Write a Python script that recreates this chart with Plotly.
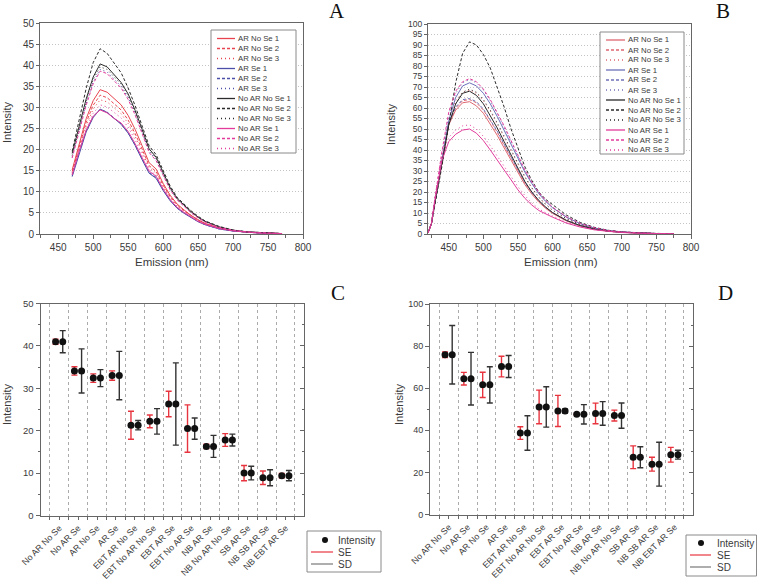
import plotly.graph_objects as go

W, H = 757, 582

# ---------------- Panel A data (emission spectra) ----------------
wl_a = [470, 480, 490, 500, 510, 520, 530, 540, 550, 560, 570, 580, 590, 600,
        610, 620, 630, 640, 650, 660, 680, 700, 720, 740, 770]
a_ar_nose_1 = [15.2, 21.6, 27.3, 31.6, 34.2, 33.6, 32.0, 30.6, 28.1, 24.8, 20.9, 16.9, 15.4, 12.0, 9.2, 7.1, 5.7, 4.4, 3.4, 2.5, 1.4, 0.8, 0.4, 0.25, 0.1]
a_ar_nose_2 = [14.8, 20.9, 26.4, 30.5, 32.9, 32.3, 30.8, 29.4, 27.0, 23.8, 20.1, 16.2, 14.8, 11.6, 8.9, 6.9, 5.5, 4.3, 3.3, 2.4, 1.4, 0.8, 0.4, 0.25, 0.1]
a_ar_nose_3 = [14.5, 20.4, 25.6, 29.6, 31.8, 31.3, 29.9, 28.5, 26.2, 23.1, 19.5, 15.8, 14.4, 11.3, 8.7, 6.7, 5.4, 4.2, 3.2, 2.4, 1.4, 0.8, 0.4, 0.25, 0.1]
a_ar_se_1 = [13.6, 19.2, 24.2, 27.6, 29.6, 28.8, 27.3, 26.0, 23.9, 21.0, 17.6, 14.4, 13.2, 10.3, 7.9, 6.1, 4.9, 3.8, 2.9, 2.2, 1.2, 0.7, 0.4, 0.2, 0.1]
a_ar_se_2 = [13.9, 19.5, 24.4, 27.8, 29.5, 28.9, 27.4, 26.1, 24.0, 21.1, 17.8, 14.6, 13.4, 10.5, 8.0, 6.2, 5.0, 3.9, 3.0, 2.2, 1.2, 0.7, 0.4, 0.2, 0.1]
a_ar_se_3 = [18.2, 24.5, 30.9, 36.0, 39.0, 38.4, 36.7, 35.0, 32.3, 28.6, 24.1, 19.6, 17.6, 14.0, 10.7, 8.2, 6.6, 5.1, 3.9, 2.9, 1.6, 0.9, 0.5, 0.3, 0.1]
a_noar_nose_1 = [19.1, 25.5, 32.0, 37.2, 40.3, 39.6, 37.8, 35.9, 33.2, 29.3, 24.8, 20.2, 18.2, 14.4, 11.0, 8.4, 6.8, 5.3, 4.0, 3.0, 1.7, 0.9, 0.5, 0.3, 0.1]
a_noar_nose_2 = [19.6, 27.0, 34.5, 40.6, 43.9, 42.8, 40.6, 38.2, 34.6, 30.4, 25.6, 20.9, 18.8, 14.9, 11.4, 8.7, 7.0, 5.5, 4.2, 3.1, 1.8, 0.95, 0.5, 0.3, 0.1]
a_noar_nose_3 = [18.6, 25.0, 31.5, 36.6, 39.6, 39.0, 37.3, 35.5, 32.8, 29.0, 24.5, 19.9, 17.9, 14.2, 10.8, 8.3, 6.7, 5.2, 3.9, 2.9, 1.6, 0.9, 0.5, 0.3, 0.1]
a_noar_se_1 = [14.0, 19.7, 24.6, 27.9, 29.4, 28.7, 27.4, 26.3, 24.3, 21.4, 18.1, 14.9, 13.7, 10.7, 8.2, 6.3, 5.1, 4.0, 3.0, 2.3, 1.3, 0.75, 0.4, 0.2, 0.1]
a_noar_se_2 = [18.0, 24.2, 30.5, 35.6, 38.6, 38.0, 36.3, 34.6, 31.9, 28.2, 23.8, 19.3, 17.4, 13.8, 10.5, 8.1, 6.5, 5.0, 3.8, 2.8, 1.6, 0.9, 0.5, 0.3, 0.1]
a_noar_se_3 = [14.2, 19.8, 24.8, 28.6, 30.6, 30.1, 28.8, 27.5, 25.3, 22.3, 18.8, 15.3, 13.9, 10.9, 8.4, 6.5, 5.2, 4.1, 3.1, 2.3, 1.3, 0.75, 0.4, 0.2, 0.1]

# ---------------- Panel B data (emission spectra) ----------------
wl_b = [420, 425, 430, 440, 450, 460, 470, 480, 490, 500, 510, 520, 530, 540,
        550, 560, 570, 580, 590, 600, 620, 640, 660, 680, 700, 725, 750, 775]
b_ar_nose_1 = [0.5, 5, 15, 34, 52, 59, 62.5, 63, 61, 57.5, 52.5, 47, 41, 35, 29, 23.5, 19, 15.2, 12.2, 9.8, 6.2, 3.8, 2.3, 1.3, 0.8, 0.4, 0.2, 0.1]
b_ar_nose_2 = [0.5, 5, 15, 35, 52.5, 60, 63.5, 64, 62.5, 59, 54, 48.5, 42.3, 36.2, 30, 24.3, 19.6, 15.7, 12.6, 10.1, 6.4, 3.9, 2.3, 1.3, 0.8, 0.4, 0.2, 0.1]
b_ar_nose_3 = [0.5, 5, 16, 37, 55, 63.5, 67.5, 68.5, 67, 63.5, 58.5, 52.5, 46, 39.5, 33, 27, 21.8, 17.4, 14, 11.2, 7.2, 4.4, 2.6, 1.5, 0.9, 0.45, 0.2, 0.1]
b_ar_se_1 = [0.5, 5, 15, 35, 54, 65, 70.5, 72, 70.5, 67, 62, 56, 49.5, 43, 36, 29.5, 24, 19.2, 15.5, 12.5, 8, 4.9, 2.9, 1.7, 1.0, 0.5, 0.2, 0.1]
b_ar_se_2 = [0.5, 5, 15, 35, 53, 60.5, 64, 64.5, 63, 59.5, 54.5, 49, 42.8, 36.6, 30.4, 24.6, 19.8, 15.9, 12.8, 10.2, 6.5, 4.0, 2.4, 1.4, 0.8, 0.4, 0.2, 0.1]
b_ar_se_3 = [0.5, 5, 17, 38, 57, 67, 72, 73.5, 72, 68.5, 63.5, 57.5, 51, 44, 37, 30, 24.5, 19.5, 15.8, 12.6, 8.1, 5.0, 3.0, 1.7, 1.0, 0.5, 0.2, 0.1]
b_noar_nose_1 = [0.5, 5, 15, 34, 52, 62, 67, 68, 66, 62, 56.5, 50.5, 44, 37.5, 31, 25, 20, 16, 12.8, 10.2, 6.5, 4.0, 2.4, 1.4, 0.8, 0.4, 0.2, 0.1]
b_noar_nose_2 = [0.5, 5, 14, 32, 52, 72, 86, 91.5, 90, 85.5, 79, 70, 60.5, 50, 40.5, 32, 25.5, 20, 16.5, 14, 9, 5.5, 3.2, 1.8, 1.0, 0.5, 0.2, 0.1]
b_noar_nose_3 = [0.5, 5, 15, 34, 52, 62, 67.5, 69, 67.5, 64, 59, 53, 46.5, 40, 33.5, 27.3, 22, 17.6, 14.2, 11.4, 7.3, 4.5, 2.7, 1.6, 0.9, 0.45, 0.2, 0.1]
b_noar_se_1 = [0.5, 5, 16, 35, 44, 47.5, 49.5, 50, 48, 44.5, 40, 35.5, 30.5, 25.8, 21, 17, 13.8, 11.2, 9.5, 8, 5.2, 3.3, 2.0, 1.2, 0.7, 0.35, 0.15, 0.1]
b_noar_se_2 = [0.5, 5, 17, 39, 58, 68, 72.5, 74, 72.5, 69, 64, 58, 51.5, 44.5, 37.5, 30.5, 24.8, 19.8, 16, 12.8, 8.2, 5.0, 3.0, 1.7, 1.0, 0.5, 0.2, 0.1]
b_noar_se_3 = [0.5, 5, 17, 38, 46, 49.5, 51.5, 52, 50, 46.5, 42, 37.3, 32.3, 27.4, 22.5, 18.3, 14.8, 12, 10.1, 8.5, 5.5, 3.5, 2.1, 1.2, 0.7, 0.35, 0.15, 0.1]

series_names = ["AR No Se 1", "AR No Se 2", "AR No Se 3",
                "AR Se 1", "AR Se 2", "AR Se 3",
                "No AR No Se 1", "No AR No Se 2", "No AR No Se 3",
                "No AR Se 1", "No AR Se 2", "No AR Se 3"]
series_a = [a_ar_nose_1, a_ar_nose_2, a_ar_nose_3, a_ar_se_1, a_ar_se_2, a_ar_se_3,
            a_noar_nose_1, a_noar_nose_2, a_noar_nose_3, a_noar_se_1, a_noar_se_2, a_noar_se_3]
series_b = [b_ar_nose_1, b_ar_nose_2, b_ar_nose_3, b_ar_se_1, b_ar_se_2, b_ar_se_3,
            b_noar_nose_1, b_noar_nose_2, b_noar_nose_3, b_noar_se_1, b_noar_se_2, b_noar_se_3]

# ---------------- Panels C / D data (mean intensity, SE, SD) ----------------
categories = ["No AR No Se", "No AR Se", "AR No Se", "AR Se", "EBT AR No Se",
              "EBT No AR No Se", "EBT AR Se", "EBT No AR Se", "NB AR Se",
              "NB No AR No Se", "SB AR Se", "NB SB AR Se", "NB EBT AR Se"]
c_mean = [41.0, 34.1, 32.4, 33.0, 21.3, 22.2, 26.3, 20.5, 16.3, 17.8, 10.0, 8.9, 9.4]
c_se = [0.6, 1.0, 1.0, 1.1, 3.3, 1.5, 3.0, 5.6, 0.5, 1.5, 1.8, 1.6, 0.5]
c_sd = [2.6, 5.2, 2.0, 5.7, 1.1, 3.0, 9.7, 2.5, 2.6, 1.4, 1.6, 1.9, 1.2]
d_mean = [75.9, 64.5, 61.6, 70.3, 38.7, 51.1, 49.2, 47.6, 48.0, 47.0, 27.2, 23.9, 28.4]
d_se = [1.3, 3.0, 6.0, 4.9, 3.0, 8.0, 7.4, 0.5, 4.9, 2.6, 5.4, 3.3, 3.5]
d_sd = [13.9, 12.5, 8.6, 5.2, 8.2, 9.6, 1.0, 4.6, 5.6, 6.0, 5.0, 10.4, 2.1]

# ---------------- styles ----------------
FONT = "Liberation Sans, Arial, sans-serif"
SERIF = "Liberation Serif, Times New Roman, serif"
TXT = "#3a3a3a"
AXC = "#666666"
cols_a = ["#e8444f", "#4b4fa8", "#2b2b2b", "#e23b9c"]
cols_b = ["#de6670", "#6d70b8", "#2b2b2b", "#e23b9c"]
dashes = ["solid", "3px,2px", "1px,3px"]
RED = "#e8343f"
SDC = "#333333"


def px(x):
    return x / W


def py(y):
    return 1 - y / H


fig = go.Figure()

for i, (name, ys) in enumerate(zip(series_names, series_a)):
    fig.add_trace(go.Scatter(x=wl_a, y=ys, mode="lines", name=name, showlegend=False,
                             line=dict(color=cols_a[i // 3], width=1.0, dash=dashes[i % 3]),
                             xaxis="x", yaxis="y"))
for i, (name, ys) in enumerate(zip(series_names, series_b)):
    fig.add_trace(go.Scatter(x=wl_b, y=ys, mode="lines", name=name, showlegend=False,
                             line=dict(color=cols_b[i // 3], width=1.0, dash=dashes[i % 3]),
                             xaxis="x2", yaxis="y2"))

for (mean, se, sd, xa, ya) in [(c_mean, c_se, c_sd, "x3", "y3"), (d_mean, d_se, d_sd, "x4", "y4")]:
    xs_se = [k - 0.2 for k in range(len(categories))]
    xs_sd = [k + 0.18 for k in range(len(categories))]
    fig.add_trace(go.Scatter(x=xs_se, y=mean, mode="markers", name="SE", showlegend=False,
                             marker=dict(color="#111111", size=7),
                             error_y=dict(type="data", array=se, color=RED, thickness=1.4, width=3),
                             xaxis=xa, yaxis=ya))
    fig.add_trace(go.Scatter(x=xs_sd, y=mean, mode="markers", name="SD", showlegend=False,
                             marker=dict(color="#111111", size=7),
                             error_y=dict(type="data", array=sd, color=SDC, thickness=1.4, width=3),
                             xaxis=xa, yaxis=ya))

# empty traces so the right-hand tick axes of C and D are drawn
fig.add_trace(go.Scatter(x=[], y=[], xaxis="x3", yaxis="y5", showlegend=False))
fig.add_trace(go.Scatter(x=[], y=[], xaxis="x4", yaxis="y6", showlegend=False))


def spec_x(domain, rng, anchor, fs):
    return dict(domain=domain, range=rng, anchor=anchor, showgrid=False, zeroline=False,
                showline=True, mirror=True, linecolor=AXC, linewidth=1,
                tickmode="linear", tick0=450, dtick=50, ticks="outside", ticklen=4,
                tickcolor=AXC, tickfont=dict(family=FONT, size=fs, color=TXT),
                minor=dict(tickmode="linear", tick0=425, dtick=25, ticks="outside",
                           ticklen=3, tickcolor=AXC))


def spec_y(domain, rng, anchor, fs):
    return dict(domain=domain, range=rng, anchor=anchor, showgrid=True, gridcolor="#c4c4c4",
                griddash="1px,2px", gridwidth=1, zeroline=False, showline=True, mirror=True,
                linecolor=AXC, linewidth=1, tickmode="linear", tick0=0, dtick=5,
                ticks="outside", ticklen=3, tickcolor=AXC,
                tickfont=dict(family=FONT, size=fs, color=TXT))


def cat_x(domain, anchor):
    return dict(domain=domain, range=[-1.0, 12.98], anchor=anchor, showgrid=False,
                zeroline=False, showline=True, mirror=True, linecolor=AXC, linewidth=1,
                tickmode="array", tickvals=list(range(len(categories))), ticktext=categories,
                tickangle=-45, ticks="outside", ticklen=3, tickcolor=AXC,
                tickfont=dict(family=FONT, size=8.8, color=TXT),
                minor=dict(tickmode="array", tickvals=[k + 0.5 for k in range(-1, len(categories))],
                           showgrid=True, gridcolor="#ababab", griddash="3px,3px", gridwidth=1,
                           ticks="outside", ticklen=3, tickcolor=AXC))


def cat_y(domain, rng, anchor, dt, fs):
    return dict(domain=domain, range=rng, anchor=anchor, showgrid=False, zeroline=False,
                showline=True, mirror=True, linecolor=AXC, linewidth=1,
                tickmode="linear", tick0=0, dtick=dt, ticks="outside", ticklen=4,
                tickcolor=AXC, tickfont=dict(family=FONT, size=fs, color=TXT),
                minor=dict(tickmode="linear", tick0=0, dtick=dt / 2, ticks="outside",
                           ticklen=2, tickcolor=AXC))


def right_y(domain, rng, anchor, over, dt):
    return dict(domain=domain, range=rng, anchor=anchor, overlaying=over, side="right",
                showgrid=False, zeroline=False, showline=False, showticklabels=False,
                tickmode="linear", tick0=0, dtick=dt, ticks="inside", ticklen=4, tickcolor=AXC,
                minor=dict(tickmode="linear", tick0=0, dtick=dt / 2, ticks="inside",
                           ticklen=2, tickcolor=AXC))


dom_ax = [px(40), px(303)]
dom_ay = [py(234), py(23)]
dom_bx = [px(428), px(691)]
dom_by = [py(234), py(24)]
dom_cx = [px(40.5), px(304)]
dom_cy = [py(515.5), py(303.5)]
dom_dx = [px(430), px(693)]
dom_dy = [py(514.5), py(304)]

fig.update_layout(
    width=W, height=H, template="none",
    margin=dict(l=0, r=0, t=0, b=0),
    paper_bgcolor="white", plot_bgcolor="white",
    showlegend=False,
    xaxis=spec_x(dom_ax, [424, 800], "y", 10),
    yaxis=spec_y(dom_ay, [0, 50], "x", 10),
    xaxis2=spec_x(dom_bx, [420, 800], "y2", 10),
    yaxis2=spec_y(dom_by, [0, 100], "x2", 8.5),
    xaxis3=cat_x(dom_cx, "y3"),
    yaxis3=cat_y(dom_cy, [0, 50], "x3", 10, 9.5),
    xaxis4=cat_x(dom_dx, "y4"),
    yaxis4=cat_y(dom_dy, [0, 100], "x4", 20, 9),
    yaxis5=right_y(dom_cy, [0, 50], "x3", "y3", 10),
    yaxis6=right_y(dom_dy, [0, 100], "x4", "y4", 20),
)

shapes = []
annots = []


def text(x, y, s, size, angle=0, anchor="center", family=FONT, color=TXT):
    annots.append(dict(x=px(x), y=py(y), xref="paper", yref="paper", text=s, showarrow=False,
                       font=dict(family=family, size=size, color=color), textangle=angle,
                       xanchor=anchor, yanchor="middle"))


# axis titles
text(171.5, 262, "Emission (nm)", 11.5)
text(560.5, 262, "Emission (nm)", 11.5)
text(7, 123, "Intensity", 11, angle=-90)
text(391, 125, "Intensity", 11, angle=-90)
text(7, 405, "Intensity", 11, angle=-90)
text(399, 405, "Intensity", 11, angle=-90)

# panel letters
text(337, 11, "A", 21, family=SERIF, color="#111111")
text(723, 11, "B", 21, family=SERIF, color="#111111")
text(338, 293, "C", 21, family=SERIF, color="#111111")
text(725, 293, "D", 21, family=SERIF, color="#111111")


# spectra legends (drawn in place)
def spec_legend(x0, y0, x1, y1, lx0, lx1, tx, ry0, cols):
    shapes.append(dict(type="rect", xref="paper", yref="paper", x0=px(x0), x1=px(x1),
                       y0=py(y0), y1=py(y1), line=dict(color="#8a8a8a", width=1),
                       fillcolor="white", layer="above"))
    for i, name in enumerate(series_names):
        yy = ry0 + i * 10.0
        shapes.append(dict(type="line", xref="paper", yref="paper", x0=px(lx0), x1=px(lx1),
                           y0=py(yy), y1=py(yy), layer="above",
                           line=dict(color=cols[i // 3], width=1.3, dash=dashes[i % 3])))
        text(tx, yy, name, 7.8, anchor="left")


spec_legend(211, 30, 296, 153, 217, 235, 235.5, 38.5, cols_a)
spec_legend(600, 32, 684, 154, 606, 625, 625.5, 40, cols_b)


def stat_legend(x0, y0, x1, y1, dotx, lx0, lx1, tx, ry0):
    shapes.append(dict(type="rect", xref="paper", yref="paper", x0=px(x0), x1=px(x1),
                       y0=py(y0), y1=py(y1), line=dict(color="#8a8a8a", width=1),
                       fillcolor="white", layer="above"))
    shapes.append(dict(type="circle", xref="paper", yref="paper", xsizemode="pixel",
                       ysizemode="pixel", xanchor=px(dotx), yanchor=py(ry0),
                       x0=-3, x1=3, y0=-3, y1=3, fillcolor="#111111",
                       line=dict(color="#111111", width=0), layer="above"))
    text(tx, ry0, "Intensity", 10, anchor="left")
    shapes.append(dict(type="line", xref="paper", yref="paper", x0=px(lx0), x1=px(lx1),
                       y0=py(ry0 + 12), y1=py(ry0 + 12), layer="above",
                       line=dict(color=RED, width=1.2)))
    text(tx, ry0 + 12, "SE", 10, anchor="left")
    shapes.append(dict(type="line", xref="paper", yref="paper", x0=px(lx0), x1=px(lx1),
                       y0=py(ry0 + 24), y1=py(ry0 + 24), layer="above",
                       line=dict(color="#777777", width=1.2)))
    text(tx, ry0 + 24, "SD", 10, anchor="left")


stat_legend(307, 531, 381, 572, 325, 311, 333, 336, 540)
stat_legend(686, 535, 756.5, 576, 701, 690, 711, 715, 543)

fig.update_layout(shapes=shapes, annotations=annots)

fig.write_html("out.html",
               config={"displayModeBar": False},
               post_script="document.body.style.margin='0';"
                           "document.documentElement.style.overflow='hidden';")
